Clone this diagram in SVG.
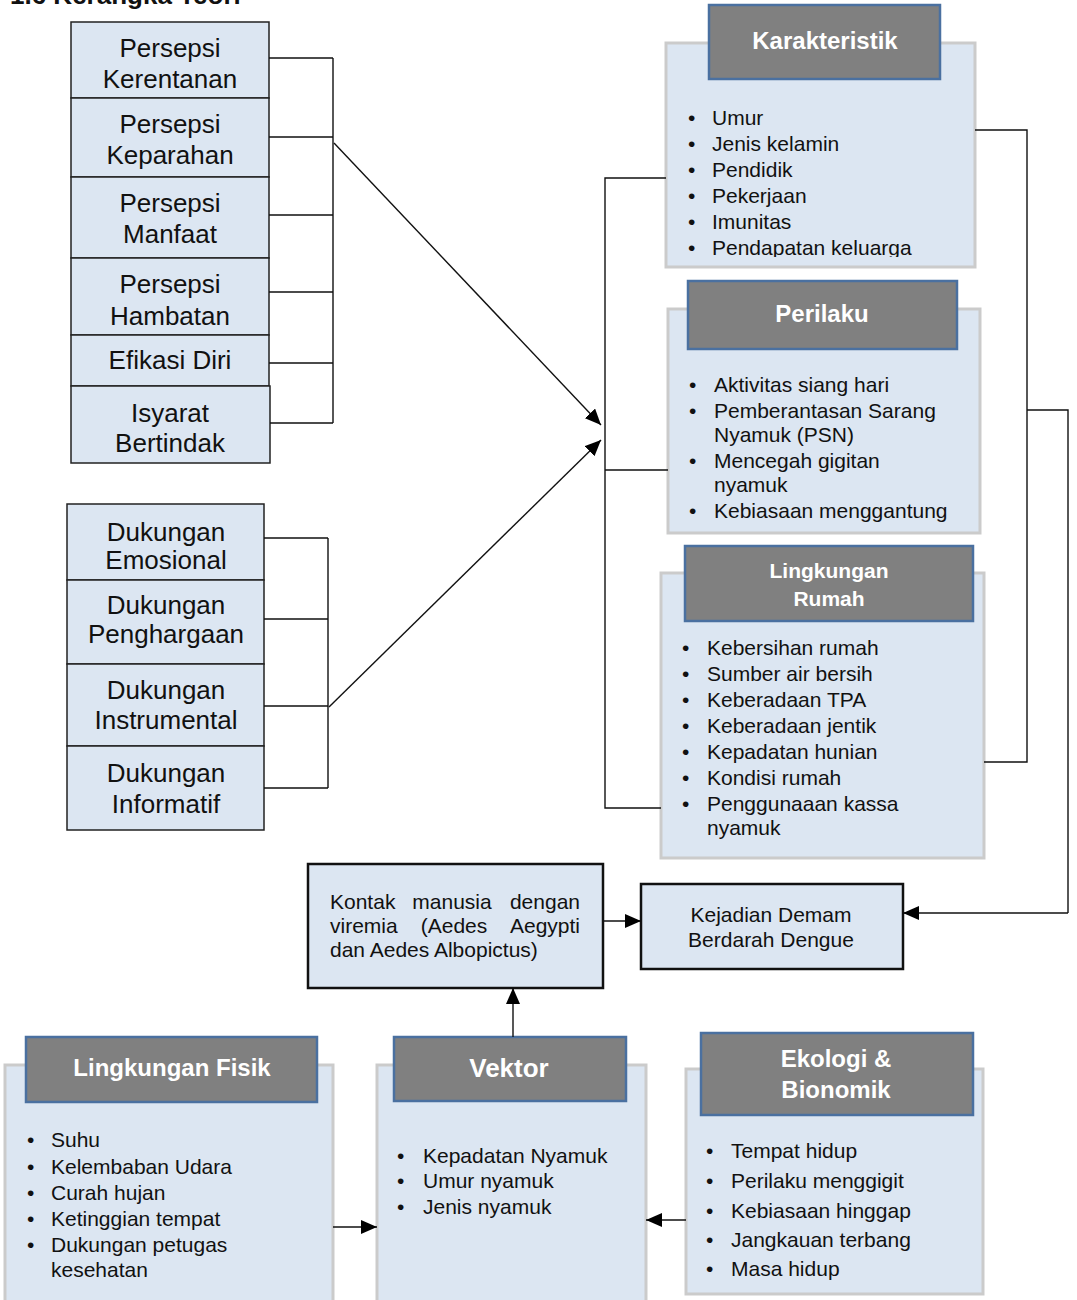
<svg xmlns="http://www.w3.org/2000/svg" width="1077" height="1300" viewBox="0 0 1077 1300">
<style>
.st{fill:#dce6f2;stroke:#222;stroke-width:1.5}
.lbl{font-family:"Liberation Sans",Arial,sans-serif;font-size:26px;fill:#111;text-anchor:middle}
.body{fill:#dce6f2;stroke:#cbcbcb;stroke-width:3}
.hdr{fill:#808080;stroke:#4a70a0;stroke-width:2.5}
.ht{font-family:"Liberation Sans",Arial,sans-serif;font-size:24px;font-weight:bold;fill:#fff;text-anchor:middle}
.li{font-family:"Liberation Sans",Arial,sans-serif;font-size:21px;fill:#111}
.bx{fill:#dce6f2;stroke:#111;stroke-width:2.5}
.ln{fill:none;stroke:#111;stroke-width:1.4}
.ar{fill:none;stroke:#111;stroke-width:1.4;marker-end:url(#ah)}
</style>
<defs>
<marker id="ah" markerUnits="userSpaceOnUse" markerWidth="16" markerHeight="14" refX="16" refY="7" orient="auto">
<path d="M0,0 L16,7 L0,14 z" fill="#000"/>
</marker>
<clipPath id="kclip"><rect x="666" y="90" width="309" height="167"/></clipPath>
</defs>

<text x="10" y="4" font-family="Liberation Sans, Arial, sans-serif" font-size="26" font-weight="bold" fill="#111">1.6 Kerangka Teori</text>

<g id="persepsi-kerentanan"><rect class="st" x="71" y="22" width="198" height="76"/><text class="lbl" x="170" y="57">Persepsi</text><text class="lbl" x="170" y="88">Kerentanan</text></g>
<g id="persepsi-keparahan"><rect class="st" x="71" y="98" width="198" height="79"/><text class="lbl" x="170" y="133">Persepsi</text><text class="lbl" x="170" y="164">Keparahan</text></g>
<g id="persepsi-manfaat"><rect class="st" x="71" y="177" width="198" height="81"/><text class="lbl" x="170" y="212">Persepsi</text><text class="lbl" x="170" y="243">Manfaat</text></g>
<g id="persepsi-hambatan"><rect class="st" x="71" y="258" width="198" height="77"/><text class="lbl" x="170" y="293">Persepsi</text><text class="lbl" x="170" y="325">Hambatan</text></g>
<g id="efikasi-diri"><rect class="st" x="71" y="335" width="198" height="51"/><text class="lbl" x="170" y="369">Efikasi Diri</text></g>
<g id="isyarat-bertindak"><rect class="st" x="71" y="386" width="199" height="77"/><text class="lbl" x="170" y="422">Isyarat</text><text class="lbl" x="170" y="452">Bertindak</text></g>

<g id="dukungan-emosional"><rect class="st" x="67" y="504" width="197" height="76"/><text class="lbl" x="166" y="541">Dukungan</text><text class="lbl" x="166" y="569">Emosional</text></g>
<g id="dukungan-penghargaan"><rect class="st" x="67" y="580" width="197" height="84"/><text class="lbl" x="166" y="614">Dukungan</text><text class="lbl" x="166" y="643">Penghargaan</text></g>
<g id="dukungan-instrumental"><rect class="st" x="67" y="664" width="197" height="82"/><text class="lbl" x="166" y="699">Dukungan</text><text class="lbl" x="166" y="729">Instrumental</text></g>
<g id="dukungan-informatif"><rect class="st" x="67" y="746" width="197" height="84"/><text class="lbl" x="166" y="782">Dukungan</text><text class="lbl" x="166" y="813">Informatif</text></g>

<g id="karakteristik">
<rect class="body" x="666" y="43" width="309" height="224"/>
<rect class="hdr" x="709" y="5" width="231" height="74"/>
<text class="ht" x="825" y="49">Karakteristik</text>
<g clip-path="url(#kclip)" class="li">
<text x="688" y="125">•</text><text x="712" y="125">Umur</text>
<text x="688" y="151">•</text><text x="712" y="151">Jenis kelamin</text>
<text x="688" y="177">•</text><text x="712" y="177">Pendidik</text>
<text x="688" y="203">•</text><text x="712" y="203">Pekerjaan</text>
<text x="688" y="229">•</text><text x="712" y="229">Imunitas</text>
<text x="688" y="255">•</text><text x="712" y="255">Pendapatan keluarga</text>
</g>
</g>

<g id="perilaku">
<rect class="body" x="668" y="309" width="312" height="224"/>
<rect class="hdr" x="688" y="281" width="269" height="68"/>
<text class="ht" x="822" y="322">Perilaku</text>
<g class="li">
<text x="689" y="392">•</text><text x="714" y="392">Aktivitas siang hari</text>
<text x="689" y="418">•</text><text x="714" y="418">Pemberantasan Sarang</text>
<text x="714" y="442">Nyamuk (PSN)</text>
<text x="689" y="468">•</text><text x="714" y="468">Mencegah gigitan</text>
<text x="714" y="492">nyamuk</text>
<text x="689" y="518">•</text><text x="714" y="518">Kebiasaan menggantung</text>
</g>
</g>

<g id="lingkungan-rumah">
<rect class="body" x="661" y="573" width="323" height="285"/>
<rect class="hdr" x="685" y="546" width="288" height="75"/>
<text class="ht" x="829" y="578" style="font-size:21px">Lingkungan</text>
<text class="ht" x="829" y="606" style="font-size:21px">Rumah</text>
<g class="li">
<text x="682" y="655">•</text><text x="707" y="655">Kebersihan rumah</text>
<text x="682" y="681">•</text><text x="707" y="681">Sumber air bersih</text>
<text x="682" y="707">•</text><text x="707" y="707">Keberadaan TPA</text>
<text x="682" y="733">•</text><text x="707" y="733">Keberadaan jentik</text>
<text x="682" y="759">•</text><text x="707" y="759">Kepadatan hunian</text>
<text x="682" y="785">•</text><text x="707" y="785">Kondisi rumah</text>
<text x="682" y="811">•</text><text x="707" y="811">Penggunaaan kassa</text>
<text x="707" y="835">nyamuk</text>
</g>
</g>

<g id="kontak">
<rect class="bx" x="308" y="864" width="295" height="124"/>
<g class="li">
<text x="330" y="909">Kontak</text><text x="452" y="909" text-anchor="middle">manusia</text><text x="580" y="909" text-anchor="end">dengan</text>
<text x="330" y="933">viremia</text><text x="454" y="933" text-anchor="middle">(Aedes</text><text x="580" y="933" text-anchor="end">Aegypti</text>
<text x="330" y="957">dan Aedes Albopictus)</text>
</g>
</g>

<g id="kejadian-dbd">
<rect class="bx" x="641" y="884" width="262" height="85"/>
<text class="li" x="771" y="922" text-anchor="middle">Kejadian Demam</text>
<text class="li" x="771" y="947" text-anchor="middle">Berdarah Dengue</text>
</g>

<g id="lingkungan-fisik">
<rect class="body" x="5" y="1065" width="328" height="250"/>
<rect class="hdr" x="26" y="1037" width="291" height="65"/>
<text class="ht" x="172" y="1076">Lingkungan Fisik</text>
<g class="li">
<text x="27" y="1147">•</text><text x="51" y="1147">Suhu</text>
<text x="27" y="1174">•</text><text x="51" y="1174">Kelembaban Udara</text>
<text x="27" y="1200">•</text><text x="51" y="1200">Curah hujan</text>
<text x="27" y="1226">•</text><text x="51" y="1226">Ketinggian tempat</text>
<text x="27" y="1252">•</text><text x="51" y="1252">Dukungan petugas</text>
<text x="51" y="1277">kesehatan</text>
</g>
</g>

<g id="vektor">
<rect class="body" x="377" y="1065" width="269" height="250"/>
<rect class="hdr" x="394" y="1037" width="232" height="64"/>
<text class="ht" x="509" y="1077" style="font-size:26px">Vektor</text>
<g class="li">
<text x="397" y="1163">•</text><text x="423" y="1163">Kepadatan Nyamuk</text>
<text x="397" y="1188">•</text><text x="423" y="1188">Umur nyamuk</text>
<text x="397" y="1214">•</text><text x="423" y="1214">Jenis nyamuk</text>
</g>
</g>

<g id="ekologi-bionomik">
<rect class="body" x="686" y="1069" width="297" height="225"/>
<rect class="hdr" x="701" y="1033" width="272" height="82"/>
<text class="ht" x="836" y="1067">Ekologi &amp;</text>
<text class="ht" x="836" y="1098">Bionomik</text>
<g class="li">
<text x="706" y="1158">•</text><text x="731" y="1158">Tempat hidup</text>
<text x="706" y="1188">•</text><text x="731" y="1188">Perilaku menggigit</text>
<text x="706" y="1218">•</text><text x="731" y="1218">Kebiasaan hinggap</text>
<text x="706" y="1247">•</text><text x="731" y="1247">Jangkauan terbang</text>
<text x="706" y="1276">•</text><text x="731" y="1276">Masa hidup</text>
</g>
</g>

<g id="connectors">
<path class="ln" d="M269,58 H333 M269,137 H333 M269,215 H333 M269,292 H333 M269,363 H333 M270,423 H333 M333,58 V423"/>
<path class="ln" d="M264,538 H328 M264,619 H328 M264,706 H328 M264,788 H328 M328,538 V788"/>
<path class="ar" d="M334,143 L601,425"/>
<path class="ar" d="M329,707 L601,440"/>
<path class="ln" d="M666,178 H605 V808 H661 M605,470 H668"/>
<path class="ln" d="M975,130 H1027 V762 H984 M1027,410 H1068 V913"/>
<path class="ar" d="M1068,913 H903"/>
<path class="ar" d="M603,921 H641"/>
<path class="ar" d="M513,1037 V988"/>
<path class="ar" d="M333,1227 H377"/>
<path class="ar" d="M686,1220 H646"/>
</g>
</svg>
